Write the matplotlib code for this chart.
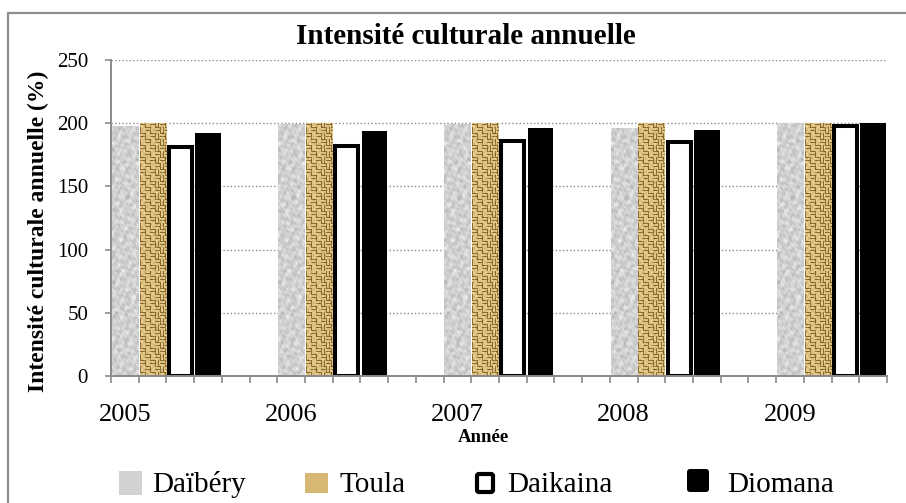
import numpy as np
import matplotlib
matplotlib.use('Agg')
import matplotlib.pyplot as plt
from matplotlib.patches import Rectangle, FancyBboxPatch

# ---------------- data ----------------
years = ['2005', '2006', '2007', '2008', '2009']
series = ['Daïbéry', 'Toula', 'Daikaina', 'Diomana']
daibery = [198, 199, 199, 196, 200]
toula = [200, 200, 200, 200, 200]
daikaina = [181, 182, 186, 185, 198]
diomana = [192, 194, 196, 195, 200]
yticks = [0, 50, 100, 150, 200, 250]

plt.rcParams['font.family'] = ['Liberation Serif', 'DejaVu Serif']

W, H = 906, 503
fig = plt.figure(figsize=(W / 100, H / 100), dpi=100)
ax = fig.add_axes([111 / W, 1 - 376 / H, (887 - 111) / W, (376 - 60) / H])

# ---------------- textures (purely decorative fill patterns) ----------------
yy, xx = np.mgrid[0:340, 0:32].astype(float)
waves = [(0.45, 0.30, 0.0), (-0.35, 0.42, 1.3), (0.62, -0.25, 2.1), (0.18, 0.71, 0.7),
         (-0.55, -0.48, 2.9), (0.95, 0.40, 4.0), (-0.30, 1.05, 5.2), (1.20, -0.90, 3.3)]
m = np.zeros_like(xx)
for fx, fy, ph in waves:
    m += np.sin(fx * xx + fy * yy + ph + 0.8 * np.sin(0.3 * yy + ph))
m = (m - m.min()) / np.ptp(m)
g = 0.70 + 0.25 * m
marble = np.dstack([g, g, g])

ii = yy.astype(int)
jj = xx.astype(int)
cell = ((ii // 6) + (jj // 6)) % 2
dark = np.where(cell == 0, (ii % 3 == 0), (jj % 3 == 0)).astype(float)
shade = 0.5 + 0.5 * np.sin(ii * 0.9) * np.sin(jj * 0.9)
v = np.clip(0.08 + 0.62 * dark + 0.22 * shade, 0, 1)
light = np.array([0.97, 0.87, 0.60])
darkc = np.array([0.45, 0.32, 0.12])
woven = light[None, None, :] * (1 - v[..., None]) + darkc[None, None, :] * v[..., None]

ymax = 250
group = 6
n = len(years)
pos = [[group * i + k + 0.5 for i in range(n)] for k in range(4)]

def textured_bars(a, xs, vals, tex, width, face):
    bars = a.bar(xs, vals, width=width, color=face, linewidth=0, zorder=2)
    for b in bars:
        x0 = b.get_x()
        im = a.imshow(tex, extent=[x0, x0 + b.get_width(), 0, ymax * 1.07],
                      aspect='auto', interpolation='nearest', zorder=2.1)
        im.set_clip_path(b)
    return bars

textured_bars(ax, pos[0], daibery, marble, 0.94, '#d2d2d2')
textured_bars(ax, pos[1], toula, woven, 0.94, '#d6b872')
ax.bar(pos[2], daikaina, width=0.84, facecolor='white', edgecolor='black',
       linewidth=2.9, zorder=3)
ax.bar(pos[3], diomana, width=0.92, color='black', linewidth=0, zorder=3)

# ---------------- axes styling ----------------
ax.set_xlim(0, group * (n - 1) + 4)
ax.set_ylim(0, ymax)
for s in ['top', 'right']:
    ax.spines[s].set_visible(False)
for s in ['left', 'bottom']:
    ax.spines[s].set_color('#8a8a8a')
    ax.spines[s].set_linewidth(1.4)
ax.spines['bottom'].set_zorder(4)

ax.set_yticks(yticks)
ax.set_yticklabels([str(t) for t in yticks])
ax.tick_params(axis='y', length=4.5, width=1.2, color='#8a8a8a', labelsize=15, pad=12)
ax.yaxis.grid(True, linestyle=(0, (1, 1.6)), color='#8a8a8a', linewidth=1.0)
ax.set_axisbelow(True)

ax.set_xticks([group * i + 0.5 for i in range(n)])
ax.set_xticklabels(years)
ax.set_xticks(np.arange(0, group * (n - 1) + 5), minor=True)
ax.tick_params(axis='x', which='major', length=0, labelsize=19, pad=20)
ax.tick_params(axis='x', which='minor', length=5, width=1.2, color='#8a8a8a')

fig.text(466 / W, 1 - 37 / H, 'Intensité culturale annuelle', fontsize=21,
         fontweight='bold', ha='center', va='center')
fig.text(38.5 / W, 1 - 231 / H, 'Intensité culturale annuelle (%)', fontsize=17,
         fontweight='bold', ha='center', va='center', rotation=90)
fig.text(483 / W, 1 - 437 / H, 'Année', fontsize=13.5, fontweight='bold',
         ha='center', va='center')

# ---------------- overlay: border + legend ----------------
lax = fig.add_axes([0, 0, 1, 1], zorder=5)
lax.set_xlim(0, W)
lax.set_ylim(H, 0)
lax.axis('off')
lax.patch.set_visible(False)
lax.plot([8, 8, W + 5], [H + 5, 13, 13], color='#8c8c8c', lw=1.6, solid_capstyle='butt')

# legend handles
r = Rectangle((119, 471), 23, 24, facecolor='#d2d2d2', linewidth=0)
lax.add_patch(r)
im = lax.imshow(marble, extent=[119, 142, 495, 471], aspect='auto', interpolation='nearest')
im.set_clip_path(r)
r = Rectangle((305, 473), 23, 20, facecolor='#d6b872', linewidth=0)
lax.add_patch(r)
im = lax.imshow(woven, extent=[305, 328, 493, 473], aspect='auto', interpolation='nearest')
im.set_clip_path(r)
lax.add_patch(FancyBboxPatch((477, 474), 16, 18, boxstyle='round,pad=0,rounding_size=2',
                             facecolor='white', edgecolor='black', linewidth=3))
lax.add_patch(FancyBboxPatch((687, 469), 22, 23, boxstyle='round,pad=0,rounding_size=3',
                             facecolor='black', edgecolor='black', linewidth=0))
for xt, lbl in zip([152, 340, 507, 727], series):
    lax.text(xt, 492, lbl, fontsize=21, ha='left', va='baseline')

fig.savefig('out.png', dpi=100)
